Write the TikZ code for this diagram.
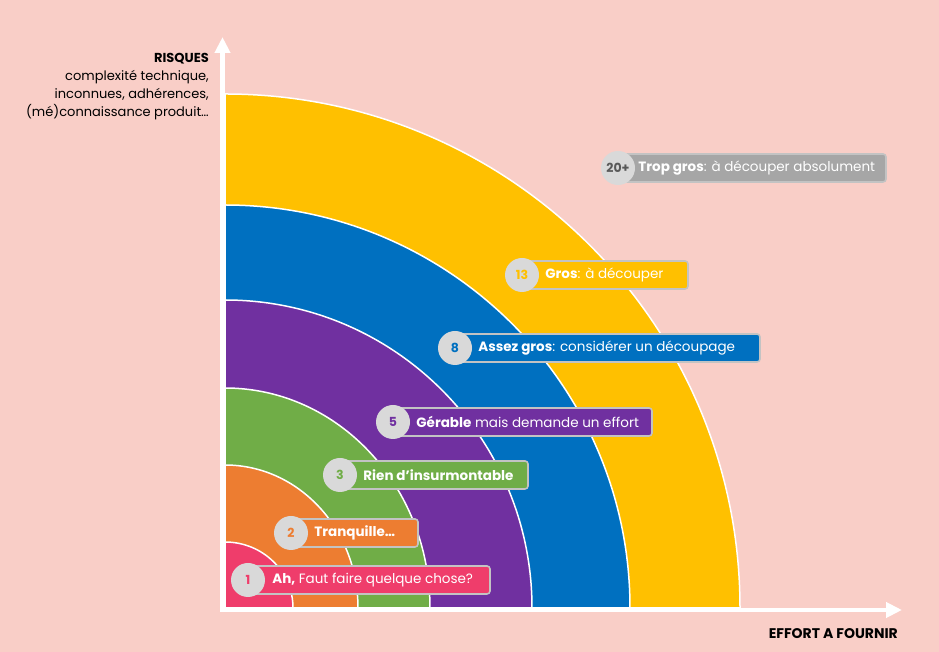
\documentclass[tikz,border=0pt]{standalone}
\usepackage{fontspec}
\setmainfont{Poppins}
\usepackage{tikz}
\usetikzlibrary{positioning,arrows.meta}

\definecolor{fond}{RGB}{249,206,199}
\definecolor{jaune}{RGB}{255,192,0}
\definecolor{bleu}{RGB}{0,112,192}
\definecolor{violet}{RGB}{112,48,160}
\definecolor{vert}{RGB}{112,173,71}
\definecolor{orange}{RGB}{237,125,49}
\definecolor{rouge}{RGB}{239,61,107}
\definecolor{gris}{RGB}{166,166,166}
\definecolor{grisclair}{RGB}{217,217,217}
\definecolor{grisfonce}{RGB}{89,89,89}

\begin{document}
\begin{tikzpicture}[x=1pt,y=1pt,line join=round]
\tikzset{>={Triangle[width=15pt,length=16pt]}}
\tikzset{bande/.style={draw=white,line width=1.5pt},
         axe/.style={draw=white,line width=4.5pt},
         cadre/.style={draw=grisclair!90!black,line width=1.6pt,rounded corners=3pt},
         pastille/.style={circle,fill=grisclair,minimum size=34pt,inner sep=0pt,font=\bfseries\fontsize{12.5}{14}\selectfont},
         etiquette/.style={inner sep=0pt,text=white,font=\fontsize{13.5}{16}\selectfont},
         titre/.style={font=\bfseries\fontsize{14}{16}\selectfont}}
\useasboundingbox (-225,-44) rectangle (714,608);
\fill[fond] (-225,-44) rectangle (714,608);
% bandes
\foreach \rx/\ry/\col in {515/514/jaune,405/403/bleu,307/308/violet,205/220/vert,133/143/orange,68/66/rouge}
  \filldraw[bande,fill=\col] (0,0) -- (\rx,0) arc[start angle=0,end angle=90,x radius=\rx,y radius=\ry] -- cycle;
% axes
\coordinate (o) at (-2.5,-2);
\coordinate (haut) at (-2.5,571);
\coordinate (droite) at (677,-2);
\draw[axe,->] ([yshift=-2pt]o) -- (haut);
\draw[axe,->] ([xshift=-2pt]o) -- (droite);
\node[align=right,anchor=north east,inner sep=0pt,font=\fontsize{13}{18}\selectfont] (risques) at (-16,555)
  {\textbf{RISQUES}\\ complexité technique,\\ inconnues, adhérences,\\ (mé)connaissance produit…};
\node[titre,anchor=north east,inner sep=0pt] (effort) at (673,-20) {EFFORT A FOURNIR};
% etiquettes
\path[cadre,fill=rouge] (23,14) rectangle (265,42);
\node[pastille,text=rouge] (p1) at (23,28) {1};
\node[etiquette,right=7pt of p1] (t1) {\textbf{Ah,} Faut faire quelque chose?};
\path[cadre,fill=orange] (66,61) rectangle (193,89);
\node[pastille,text=orange] (p2) at (66,75) {2};
\node[etiquette,right=6pt of p2] (t2) {\textbf{Tranquille…}};
\path[cadre,fill=vert] (115,119) rectangle (303,147);
\node[pastille,text=vert] (p3) at (115,133) {3};
\node[etiquette,right=6pt of p3] (t3) {\textbf{Rien d’insurmontable}};
\path[cadre,fill=violet] (168,172) rectangle (427,200);
\node[pastille,text=violet] (p5) at (168,186) {5};
\node[etiquette,right=6pt of p5] (t5) {\textbf{Gérable} mais demande un effort};
\path[cadre,fill=bleu] (230,246) rectangle (535,274);
\node[pastille,text=bleu] (p8) at (230,260) {8};
\node[etiquette,right=6pt of p8] (t8) {\textbf{Assez gros}: considérer un découpage};
\path[cadre,fill=jaune] (297,319) rectangle (463,347);
\node[pastille,text=jaune] (p13) at (297,333) {13};
\node[etiquette,right=6pt of p13] (t13) {\textbf{Gros}: à découper};
\path[cadre,fill=gris] (393,426) rectangle (661,454);
\node[pastille,text=grisfonce] (p20) at (393,440) {20+};
\node[etiquette,right=3pt of p20] (t20) {\textbf{Trop gros}: à découper absolument};
\end{tikzpicture}
\end{document}
